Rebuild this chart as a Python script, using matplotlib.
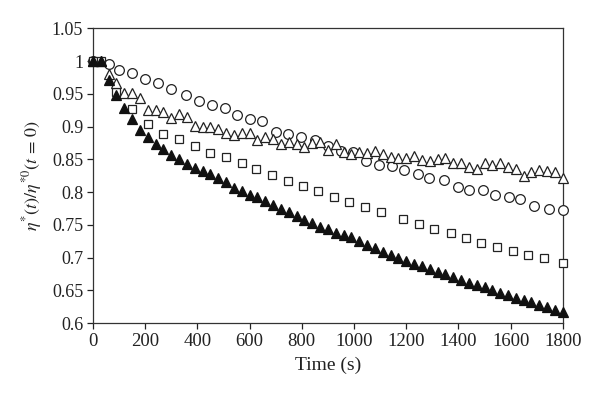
import matplotlib
matplotlib.use("Agg")
import matplotlib.pyplot as plt
from matplotlib.ticker import FuncFormatter

plt.rcParams["font.family"] = ["Liberation Serif", "DejaVu Serif"]
plt.rcParams["mathtext.fontset"] = "stix"

# open circles
t_circ = [0, 60, 100, 150, 200, 250, 300, 355, 405, 455, 505, 550, 600, 648,
          700, 746, 797, 852, 899, 951, 998, 1046, 1095, 1146, 1193, 1247,
          1286, 1344, 1397, 1442, 1493, 1542, 1592, 1637, 1691, 1746, 1800]
v_circ = [1.0, 0.995, 0.987, 0.982, 0.972, 0.966, 0.958, 0.948, 0.939, 0.933,
          0.928, 0.917, 0.911, 0.909, 0.892, 0.889, 0.884, 0.880, 0.871, 0.863,
          0.862, 0.848, 0.841, 0.840, 0.834, 0.828, 0.822, 0.818, 0.808, 0.803,
          0.803, 0.796, 0.792, 0.790, 0.779, 0.775, 0.772]

# open triangles and filled triangles (every 30 s)
t_tri = list(range(0, 1801, 30))
v_tri_open = [1.0, 1.0, 0.981, 0.967, 0.951, 0.952, 0.943, 0.926, 0.926, 0.923,
              0.913, 0.919, 0.915, 0.901, 0.899, 0.900, 0.897, 0.891, 0.887, 0.891,
              0.890, 0.879, 0.884, 0.881, 0.874, 0.877, 0.874, 0.869, 0.875, 0.877,
              0.864, 0.874, 0.862, 0.858, 0.862, 0.859, 0.863, 0.858, 0.854, 0.852,
              0.852, 0.855, 0.849, 0.847, 0.850, 0.852, 0.845, 0.844, 0.838, 0.836,
              0.845, 0.841, 0.844, 0.839, 0.836, 0.824, 0.831, 0.834, 0.832, 0.831,
              0.821]
v_tri_fill = [1.0, 1.0, 0.971, 0.948, 0.928, 0.911, 0.895, 0.884, 0.874, 0.866,
              0.857, 0.850, 0.843, 0.837, 0.832, 0.828, 0.821, 0.815, 0.807, 0.801,
              0.796, 0.792, 0.786, 0.780, 0.774, 0.769, 0.764, 0.758, 0.753, 0.747,
              0.743, 0.738, 0.735, 0.731, 0.726, 0.720, 0.714, 0.709, 0.704, 0.699,
              0.695, 0.691, 0.687, 0.683, 0.678, 0.675, 0.671, 0.666, 0.662, 0.659,
              0.655, 0.650, 0.646, 0.643, 0.639, 0.636, 0.632, 0.628, 0.624, 0.620,
              0.617]

# open squares
t_sq = [0, 30, 90, 150, 210, 270, 330, 390, 450, 510, 570, 625, 686, 746, 804,
        861, 925, 982, 1044, 1104, 1189, 1250, 1308, 1372, 1429, 1487, 1547,
        1608, 1665, 1727, 1800]
v_sq = [1.0, 1.0, 0.953, 0.927, 0.904, 0.889, 0.881, 0.870, 0.860, 0.854, 0.845,
        0.835, 0.826, 0.817, 0.809, 0.801, 0.792, 0.785, 0.778, 0.769, 0.759,
        0.751, 0.743, 0.737, 0.730, 0.723, 0.717, 0.710, 0.704, 0.699, 0.692]

fig = plt.figure(figsize=(6, 3.99), dpi=100)
ax = fig.add_axes([0.155, 0.19, 0.783, 0.739])

ec = "#222222"
common = dict(linestyle="none", clip_on=False, zorder=3, markeredgewidth=0.9)
ax.plot(t_circ, v_circ, marker="o", markersize=7, markerfacecolor="white",
        markeredgecolor=ec, **common)
ax.plot(t_sq, v_sq, marker="s", markersize=6, markerfacecolor="white",
        markeredgecolor=ec, **common)
ax.plot(t_tri, v_tri_open, marker="^", markersize=7, markerfacecolor="white",
        markeredgecolor=ec, **common)
ax.plot(t_tri, v_tri_fill, marker="^", markersize=7, markerfacecolor="#111111",
        markeredgecolor="#111111", **common)

ax.set_xlim(0, 1800)
ax.set_ylim(0.6, 1.05)
ax.set_xticks(range(0, 1801, 200))
ax.set_yticks([0.6 + 0.05 * i for i in range(10)])
ax.yaxis.set_major_formatter(FuncFormatter(lambda v, p: "%g" % round(v, 2)))
ax.tick_params(direction="out", length=4, width=0.9, colors="#222222")
ax.tick_params(axis="x", labelsize=13.5, pad=3)
ax.tick_params(axis="y", labelsize=13, pad=3)
for s in ax.spines.values():
    s.set_color("#333333")
    s.set_linewidth(0.9)

ax.set_xlabel("Time (s)", fontsize=14, color="#222222", labelpad=5)
ax.set_ylabel(r"$\eta^{*}(t)/\eta^{*0}(t\,=\,0)$", fontsize=13, color="#222222",
              labelpad=6)

fig.savefig("out.png", dpi=100)
